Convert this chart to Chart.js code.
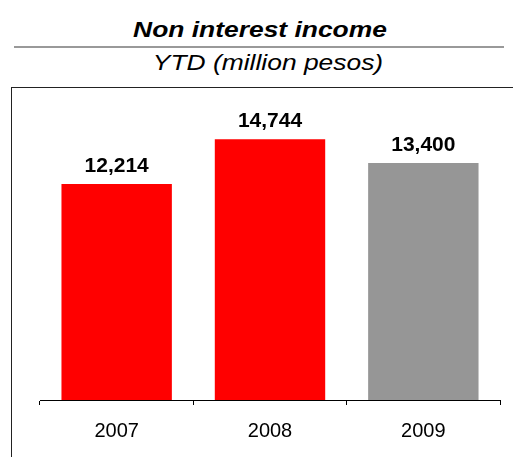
<!DOCTYPE html>
<html lang="en">
<head>
  <meta charset="UTF-8">
  <title>Non interest income</title>
  <script src="https://cdn.jsdelivr.net/npm/chart.js"></script>
  <style>
    body { margin: 0; background: #fff; }
    #wrap { position: relative; width: 513px; height: 457px; overflow: hidden; font-family: "Liberation Sans", Arial, sans-serif; }
    .head { position: absolute; width: 400px; text-align: center; white-space: nowrap; font-size: 22px; line-height: 22px; font-style: italic; color: #000; transform: scaleX(1.2); transform-origin: center; }
    #title { left: 60px; top: 19px; font-weight: bold; }
    #subtitle { left: 68px; top: 52px; }
    #rule { position: absolute; left: 14px; top: 46px; width: 490px; height: 2px; background: #999; }
    #frame { position: absolute; left: 11px; top: 87px; right: -5px; bottom: -5px; border-top: 1px solid #222; border-left: 1px solid #222; }
    canvas { position: absolute; left: 0; top: 0; }
  </style>
</head>
<body>
  <div id="wrap">
    <div id="title" class="head">Non interest income</div>
    <div id="rule"></div>
    <div id="subtitle" class="head">YTD (million pesos)</div>
    <div id="frame"></div>
    <canvas id="incomeChart" width="513" height="480"></canvas>
  </div>

  <script>
    const years = ['2007', '2008', '2009'];
    const income = [12214, 14744, 13400];
    const barColors = ['#ff0000', '#ff0000', '#969696'];

    // value labels above each bar
    const valueLabels = {
      id: 'valueLabels',
      afterDatasetsDraw(chart) {
        const ctx = chart.ctx;
        const meta = chart.getDatasetMeta(0);
        ctx.save();
        ctx.font = 'bold 21px "Liberation Sans", Arial, sans-serif';
        ctx.fillStyle = '#000';
        ctx.textAlign = 'center';
        ctx.textBaseline = 'alphabetic';
        meta.data.forEach((bar, i) => {
          ctx.fillText(income[i].toLocaleString('en-US'), bar.x, bar.y - 12);
        });
        ctx.restore();
      }
    };

    new Chart(document.getElementById('incomeChart'), {
      type: 'bar',
      data: {
        labels: years,
        datasets: [{
          data: income,
          backgroundColor: barColors,
          borderWidth: 0,
          barPercentage: 0.72,
          categoryPercentage: 1
        }]
      },
      options: {
        responsive: false,
        animation: false,
        layout: { padding: { left: 40, right: 13, top: 117, bottom: 23 } },
        plugins: { legend: { display: false }, tooltip: { enabled: false } },
        scales: {
          y: { display: false, min: 0, max: 16000 },
          x: {
            border: { color: '#000', width: 1 },
            grid: { drawOnChartArea: false, drawTicks: true, tickLength: 5, color: '#000' },
            ticks: {
              color: '#000',
              padding: 14,
              font: { family: '"Liberation Sans", Arial, sans-serif', size: 20 }
            }
          }
        }
      },
      plugins: [valueLabels]
    });
  </script>
</body>
</html>
